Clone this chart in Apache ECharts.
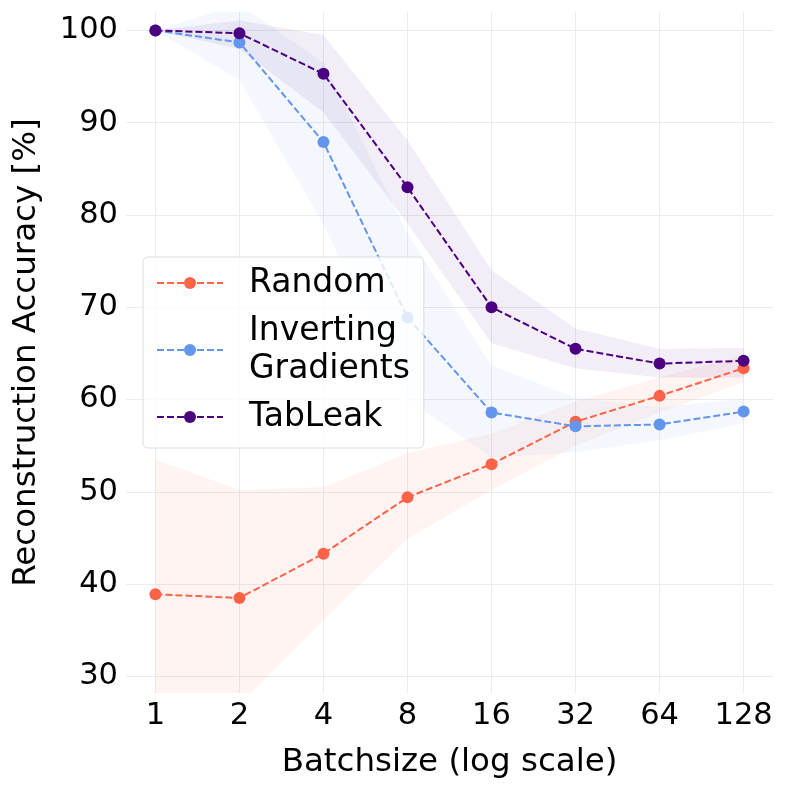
<!DOCTYPE html>
<html>
<head>
    <meta charset="utf-8">
    <title>Reconstruction Accuracy</title>
    <script src="https://cdn.jsdelivr.net/npm/echarts@6/dist/echarts.min.js"></script>
    <style>
        html, body { margin: 0; padding: 0; background: #fff; }
    </style>
</head>
<body>
<div id="main" style="width: 789px;height:789px;"></div>
<script type="text/javascript">

    // batch sizes (plotted on a log2 scale)
    var batchSizes = [1, 2, 4, 8, 16, 32, 64, 128];
    var yTicks = [30, 40, 50, 60, 70, 80, 90, 100];

    // mean accuracy [%]
    var randomMean = [38.9, 38.5, 43.3, 49.4, 53.0, 57.6, 60.4, 63.4];
    var igMean = [100.0, 98.7, 87.9, 68.9, 58.6, 57.1, 57.3, 58.7];
    var tableakMean = [100.0, 99.7, 95.3, 83.0, 70.0, 65.5, 63.9, 64.2];

    // shaded bands (lower / upper)
    var randomLow = [24.0, 27.0, 36.1, 44.9, 50.2, 55.0, 58.6, 61.9];
    var randomHigh = [53.5, 50.2, 50.5, 54.2, 56.3, 59.8, 62.4, 64.8];
    var igLow = [100.0, 94.6, 79.0, 60.0, 53.7, 54.3, 55.6, 57.4];
    var igHigh = [100.0, 102.8, 96.5, 78.0, 63.7, 60.2, 59.2, 60.1];
    var tableakLow = [100.0, 98.0, 91.1, 79.1, 66.1, 63.4, 62.4, 62.4];
    var tableakHigh = [100.0, 101.1, 99.5, 88.1, 74.0, 67.7, 65.5, 65.6];

    var logX = batchSizes.map(function (b) { return Math.log2(b); });
    var font = 'DejaVu Sans';

    function pairs(vals) {
        return vals.map(function (v, i) { return [logX[i], v]; });
    }

    // filled band between lo and hi, drawn once through the axes
    function band(lo, hi, color, alpha) {
        return {
            type: 'custom',
            silent: true,
            z: 1,
            data: pairs(hi),
            renderItem: function (params, api) {
                if (params.dataIndex !== 0) return null;
                var pts = [];
                for (var i = 0; i < logX.length; i++) {
                    pts.push(api.coord([logX[i], hi[i]]));
                }
                for (var j = logX.length - 1; j >= 0; j--) {
                    pts.push(api.coord([logX[j], lo[j]]));
                }
                var cs = params.coordSys;
                return {
                    type: 'polygon',
                    shape: {points: pts},
                    style: {fill: color, opacity: alpha},
                    clipPath: {
                        type: 'rect',
                        shape: {x: cs.x, y: cs.y, width: cs.width, height: cs.height}
                    }
                };
            }
        };
    }

    function mainLine(name, vals, color) {
        return {
            name: name,
            type: 'line',
            data: pairs(vals),
            symbol: 'circle',
            symbolSize: 12,
            itemStyle: {color: color},
            lineStyle: {color: color, width: 2, type: [7, 3]},
            z: 3
        };
    }

    var myChart = echarts.init(document.getElementById('main'));

    var series = [
        band(randomLow, randomHigh, '#FF6347', 0.07),
        band(igLow, igHigh, '#6495ED', 0.07),
        band(tableakLow, tableakHigh, '#4B0082', 0.07),
        mainLine('Random', randomMean, '#FF6347'),
        mainLine('Inverting\nGradients', igMean, '#6495ED'),
        mainLine('TabLeak', tableakMean, '#4B0082')
    ];

    var option = {
        animation: false,
        backgroundColor: '#fff',
        textStyle: {fontFamily: font},
        grid: {left: 126, right: 16, top: 12, bottom: 96},
        legend: {
            data: ['Random', 'Inverting\nGradients', 'TabLeak'],
            orient: 'vertical',
            left: 143,
            top: 257,
            padding: [7, 14, 12, 13],
            itemWidth: 66,
            itemHeight: 15,
            itemGap: 10,
            backgroundColor: 'rgba(255,255,255,0.8)',
            borderColor: '#dddddd',
            borderWidth: 1,
            borderRadius: 5,
            textStyle: {fontFamily: font, fontSize: 33, color: '#000', lineHeight: 38, padding: [0, 0, 0, 21]}
        },
        xAxis: {
            type: 'value',
            min: -0.35,
            max: 7.35,
            name: 'Batchsize (log scale)',
            nameLocation: 'middle',
            nameGap: 53,
            nameTextStyle: {fontFamily: font, fontSize: 32.5, color: '#000'},
            axisLine: {show: false},
            axisTick: {show: false, customValues: logX},
            axisLabel: {
                customValues: logX,
                margin: 8,
                fontFamily: font,
                fontSize: 30.5,
                color: '#000',
                formatter: function (v) { return String(Math.round(Math.pow(2, v))); }
            },
            splitLine: {show: true, lineStyle: {color: '#ebebeb', width: 1}}
        },
        yAxis: {
            type: 'value',
            min: 28.2,
            max: 102,
            name: 'Reconstruction Accuracy [%]',
            nameLocation: 'middle',
            nameRotate: 90,
            nameGap: 83,
            nameTextStyle: {fontFamily: font, fontSize: 32.5, color: '#000'},
            axisLine: {show: false},
            axisTick: {show: false, customValues: yTicks},
            axisLabel: {
                customValues: yTicks,
                margin: 8,
                fontFamily: font,
                fontSize: 30.5,
                color: '#000'
            },
            splitLine: {show: true, lineStyle: {color: '#ebebeb', width: 1}}
        },
        series: series
    };

    myChart.setOption(option);
</script>
</body>
</html>
